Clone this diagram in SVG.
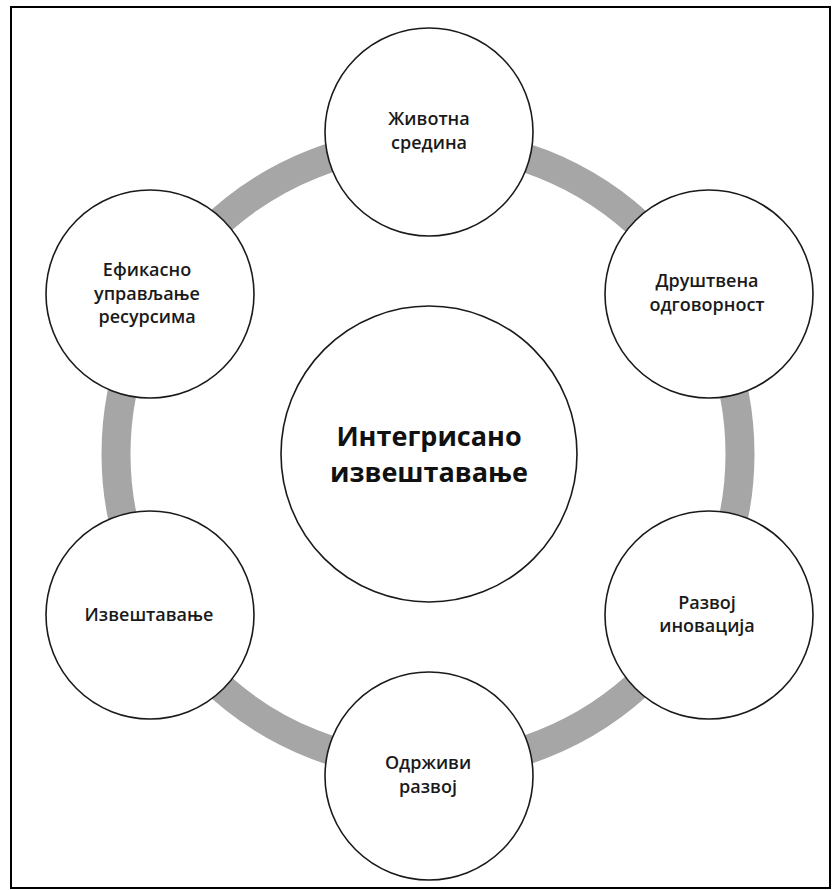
<svg xmlns="http://www.w3.org/2000/svg" width="833" height="890" viewBox="0 0 833 890">
  <style>
    .frame { fill: none; stroke: #000; stroke-width: 2; }
    .ring { fill: none; stroke: #a6a6a6; stroke-width: 29; }
    .node { fill: #fff; stroke: #1a1a1a; stroke-width: 1.6; }
    .lbl { font-family: "Open Sans", "Noto Sans", "DejaVu Sans", sans-serif; font-weight: 600; font-size: 18px; fill: #1a1a1a; text-anchor: middle; }
    .hub { font-family: "Open Sans", "Noto Sans", "DejaVu Sans", sans-serif; font-weight: 700; font-size: 27px; fill: #111; text-anchor: middle; }
  </style>
  <rect width="833" height="890" fill="#fff"/>
  <rect class="frame" x="11" y="7" width="819" height="881"/>

  <!-- cycle ring linking the outer topics -->
  <g id="connectors">
    <circle class="ring" cx="428" cy="454" r="312"/>
  </g>

  <g id="hub">
    <circle class="node" cx="429" cy="454" r="148"/>
    <text class="hub" x="429" y="446">Интегрисано</text>
    <text class="hub" x="429" y="482">извештавање</text>
  </g>

  <g id="environment">
    <circle class="node" cx="429" cy="132" r="104"/>
    <text class="lbl" x="429" y="125">Животна</text>
    <text class="lbl" x="429" y="149">средина</text>
  </g>

  <g id="social-responsibility">
    <circle class="node" cx="709" cy="294" r="104"/>
    <text class="lbl" x="707" y="287">Друштвена</text>
    <text class="lbl" x="707" y="311">одговорност</text>
  </g>

  <g id="innovation">
    <circle class="node" cx="709" cy="615" r="104"/>
    <text class="lbl" x="707" y="609">Развој</text>
    <text class="lbl" x="707" y="632">иновација</text>
  </g>

  <g id="sustainable-development">
    <circle class="node" cx="429" cy="776" r="104"/>
    <text class="lbl" x="428" y="769">Одрживи</text>
    <text class="lbl" x="428" y="793">развој</text>
  </g>

  <g id="reporting">
    <circle class="node" cx="150" cy="615" r="104"/>
    <text class="lbl" x="149" y="621">Извештавање</text>
  </g>

  <g id="resource-management">
    <circle class="node" cx="150" cy="294" r="104"/>
    <text class="lbl" x="147" y="276">Ефикасно</text>
    <text class="lbl" x="147" y="300">управљање</text>
    <text class="lbl" x="147" y="323">ресурсима</text>
  </g>
</svg>
